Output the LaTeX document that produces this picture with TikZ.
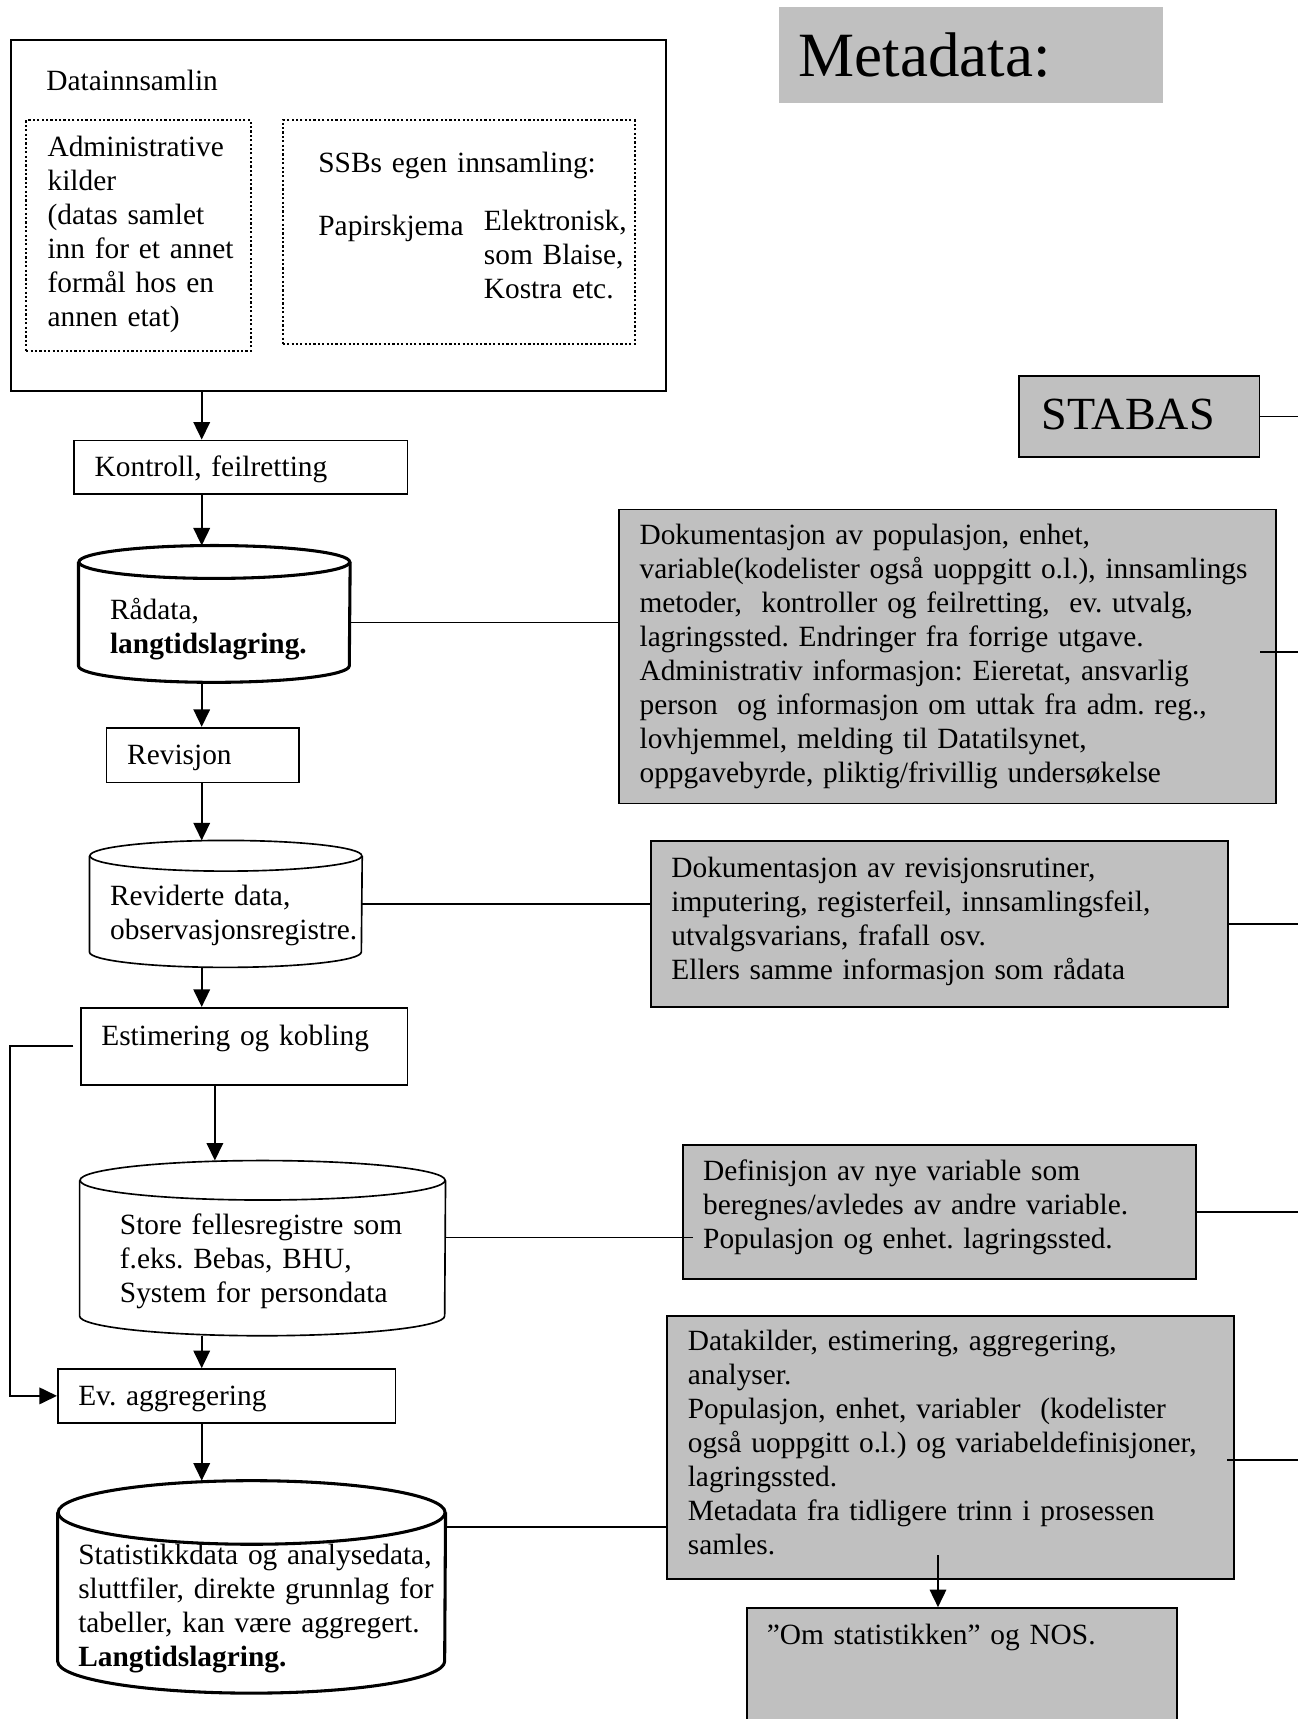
\documentclass[tikz,border=0pt]{standalone}
\usepackage{fontspec}
\setmainfont{Liberation Serif}
\usetikzlibrary{arrows.meta}
\definecolor{metagray}{HTML}{C0C0C0}

\begin{document}
\frenchspacing
\begin{tikzpicture}
  [x=0.5pt, y=-0.5pt,
   font=\fontsize{13.4}{15.5}\selectfont,
   stepbox/.style={draw, line width=0.75pt, anchor=north west, inner sep=0},
   frame box/.style={draw, line width=0.85pt, anchor=north west, inner sep=0},
   dot box/.style={draw, line width=0.9pt, dash pattern=on 1pt off 1pt, anchor=north west, inner sep=0},
   meta box/.style={draw, fill=metagray, line width=0.8pt, anchor=north west, inner sep=0},
   drum/.style={inner sep=0},
   drum line/.style={line width=1.4pt},
   thin drum/.style={line width=0.75pt},
   doc text/.style={anchor=base west, inner sep=0, align=left, text width=300pt},
   flow/.style={-{Triangle[width=7.5pt,length=8pt]}, line width=0.9pt},
   link/.style={-, line width=0.65pt}]
  \useasboundingbox (0,0) rectangle (1184,1568);
  \clip (0,0) rectangle (1184,1568);

  % left column: collection and processing
  \node[frame box, minimum width=299pt, minimum height=160pt] (datainn) at (9,36) {};
  \node[dot box, minimum width=102.5pt, minimum height=105pt] (adm) at (23,109) {};
  \node[dot box, minimum width=160.5pt, minimum height=102pt] (ssb) at (257,109) {};
  \node[stepbox, minimum width=152pt, minimum height=24.5pt] (kontroll) at (67,401) {};
  \node[drum, minimum width=123.5pt, minimum height=62pt] (rad) at (195.5,560) {};
  \node[stepbox, minimum width=87.75pt, minimum height=25pt] (revisjon) at (96.5,663) {};
  \node[drum, minimum width=124pt, minimum height=57.5pt] (revid) at (206,824.5) {};
  \node[stepbox, minimum width=149pt, minimum height=35.25pt] (estim) at (73,918.5) {};
  \node[drum, minimum width=166.5pt, minimum height=79.5pt] (store) at (239.5,1138.5) {};
  \node[stepbox, minimum width=154pt, minimum height=24.5pt] (aggr) at (52,1248) {};
  \node[drum, minimum width=176.5pt, minimum height=96.5pt] (stat) at (229.5,1447.5) {};

  % drums
  \draw[drum line] ([yshift=-7.5pt]rad.north west) -- ([yshift=7.5pt]rad.south west)
    arc[start angle=180, end angle=360, x radius=61.75pt, y radius=7.5pt] -- ([yshift=-7.5pt]rad.north east);
  \draw[drum line] ([yshift=-7.5pt]rad.north) ellipse [x radius=61.75pt, y radius=7.5pt];
  \draw[thin drum] ([yshift=-7pt]revid.north west) -- ([yshift=7pt]revid.south west)
    arc[start angle=180, end angle=360, x radius=62pt, y radius=7pt] -- ([yshift=-7pt]revid.north east);
  \draw[thin drum] ([yshift=-7pt]revid.north) ellipse [x radius=62pt, y radius=7pt];
  \draw[thin drum] ([yshift=-9pt]store.north west) -- ([yshift=9pt]store.south west)
    arc[start angle=180, end angle=360, x radius=83.25pt, y radius=9pt] -- ([yshift=-9pt]store.north east);
  \draw[thin drum] ([yshift=-9pt]store.north) ellipse [x radius=83.25pt, y radius=9pt];
  \draw[drum line] ([yshift=-14.5pt]stat.north west) -- ([yshift=14.5pt]stat.south west)
    arc[start angle=180, end angle=360, x radius=88.25pt, y radius=14.5pt] -- ([yshift=-14.5pt]stat.north east);
  \draw[drum line] ([yshift=-14.5pt]stat.north) ellipse [x radius=88.25pt, y radius=14.5pt];

  % right column: metadata
  \node[fill=metagray, anchor=north west, inner sep=0, minimum width=175pt, minimum height=44pt] (metahead) at (710,6) {};
  \node[meta box, minimum width=109.5pt, minimum height=37pt] (stabas) at (929,342) {};
  \node[meta box, minimum width=299.75pt, minimum height=134pt] (dok1) at (563.5,464) {};
  \node[meta box, minimum width=263pt, minimum height=76pt] (dok2) at (593,766) {};
  \node[meta box, minimum width=234pt, minimum height=61.25pt] (defin) at (622,1043.5) {};
  \node[meta box, minimum width=258.75pt, minimum height=120pt] (datak) at (607.5,1199.5) {};
  \node[meta box, minimum width=196.1pt, minimum height=67pt] (omstat) at (680.5,1466) {};

  % texts
  \node[doc text] (datainnt) at (42,83) {Datainnsamlin};
  \node[doc text] (admt) at (43,143) {Administrative\\kilder\\(datas samlet\\inn for et annet\\formål hos en\\annen etat)};
  \node[doc text] (ssbt) at (290,157) {SSBs egen innsamling:};
  \node[doc text] (papirt) at (290,215) {Papirskjema};
  \node[doc text] (elekt) at (441,210) {Elektronisk,\\som Blaise,\\Kostra etc.};
  \node[doc text] (kontrollt) at (86,435) {Kontroll, feilretting};
  \node[doc text] (radt) at (100,565) {Rådata,\\\textbf{langtidslagring.}};
  \node[doc text] (revisjont) at (115.6,697) {Revisjon};
  \node[doc text] (revidt) at (100,826) {Reviderte data,\\observasjonsregistre.};
  \node[doc text] (estimt) at (92,954) {Estimering og kobling};
  \node[doc text] (storet) at (109,1126) {Store fellesregistre som\\f.eks. Bebas, BHU,\\System for persondata};
  \node[doc text] (aggrt) at (71,1282) {Ev. aggregering};
  \node[doc text] (statt) at (71,1427) {Statistikkdata og analysedata,\\sluttfiler, direkte grunnlag for\\tabeller, kan være aggregert.\\\textbf{Langtidslagring.}};

  \node[doc text, font=\fontsize{28.75}{32}\selectfont] (metaheadt) at (728,70) {Metadata:};
  \node[doc text, font=\fontsize{21}{24}\selectfont] (stabast) at (950,392) {STABAS};
  \node[doc text] (dok1t) at (583,497) {Dokumentasjon av populasjon, enhet,\\variable(kodelister også uoppgitt o.l.), innsamlings\\metoder, ~kontroller og feilretting, ~ev. utvalg,\\lagringssted. Endringer fra forrige utgave.\\Administrativ informasjon: Eieretat, ansvarlig\\person ~og informasjon om uttak fra adm. reg.,\\lovhjemmel, melding til Datatilsynet,\\oppgavebyrde, pliktig/frivillig undersøkelse};
  \node[doc text] (dok2t) at (612,800) {Dokumentasjon av revisjonsrutiner,\\imputering, registerfeil, innsamlingsfeil,\\utvalgsvarians, frafall osv.\\Ellers samme informasjon som rådata};
  \node[doc text] (defint) at (641,1077) {Definisjon av nye variable som\\beregnes/avledes av andre variable.\\Populasjon og enhet. lagringssted.};
  \node[doc text] (datakt) at (627,1232) {Datakilder, estimering, aggregering,\\analyser.\\Populasjon, enhet, variabler ~(kodelister\\også uoppgitt o.l.) og variabeldefinisjoner,\\lagringssted.\\Metadata fra tidligere trinn i prosessen\\samles.};
  \node[doc text] (omstatt) at (699,1500) {”Om statistikken” og NOS.};

  % connectors
  \coordinate (spine) at (184,0);
  \coordinate (spinewide) at (196,0);
  \coordinate (rim) at (1184,0);
  \coordinate (loopx) at (8.7,0);
  \coordinate (omdrop) at (855.6,1418.5);
  \coordinate (definin) at ([xshift=5pt]defin.west);

  \path (datainn.south -| spine) [flow] edge (kontroll.north -| spine);
  \path (kontroll.south -| spine) [flow] edge (rad.north -| spine);
  \path (rad.south -| spine) [flow] edge (revisjon.north -| spine);
  \path (revisjon.south -| spine) [flow] edge (revid.north -| spine);
  \path (revid.south -| spine) [flow] edge (estim.north -| spine);
  \path (estim.south -| spinewide) [flow] edge (store.north -| spinewide);
  \path (store.south -| spine) [flow] edge (aggr.north -| spine);
  \path (aggr.south -| spine) [flow] edge (stat.north -| spine);
  \draw[flow] ([xshift=-3pt]estim.west) -- (estim.west -| loopx) |- (aggr.west);
  \path (omdrop) [flow] edge (omstat.north -| omdrop);

  \path ([yshift=-4pt]rad.east) [link] edge ([yshift=-4pt]rad.east -| dok1.west);
  \path (revid.east) [link] edge (revid.east -| dok2.west);
  \path ([yshift=4.75pt]store.east) [link] edge ([yshift=4.75pt]store.east -| definin);
  \path ([yshift=27.25pt]stat.east) [link] edge ([yshift=27.25pt]stat.east -| datak.west);

  \path (stabas.east) [link] edge (stabas.east -| rim);
  \path ([xshift=-7.5pt,yshift=2pt]dok1.east) [link] edge ([yshift=2pt]dok1.east -| rim);
  \path (dok2.east) [link] edge (dok2.east -| rim);
  \path (defin.east) [link] edge (defin.east -| rim);
  \path ([xshift=-3.5pt,yshift=-5.75pt]datak.east) [link] edge ([yshift=-5.75pt]datak.east -| rim);
\end{tikzpicture}
\end{document}
